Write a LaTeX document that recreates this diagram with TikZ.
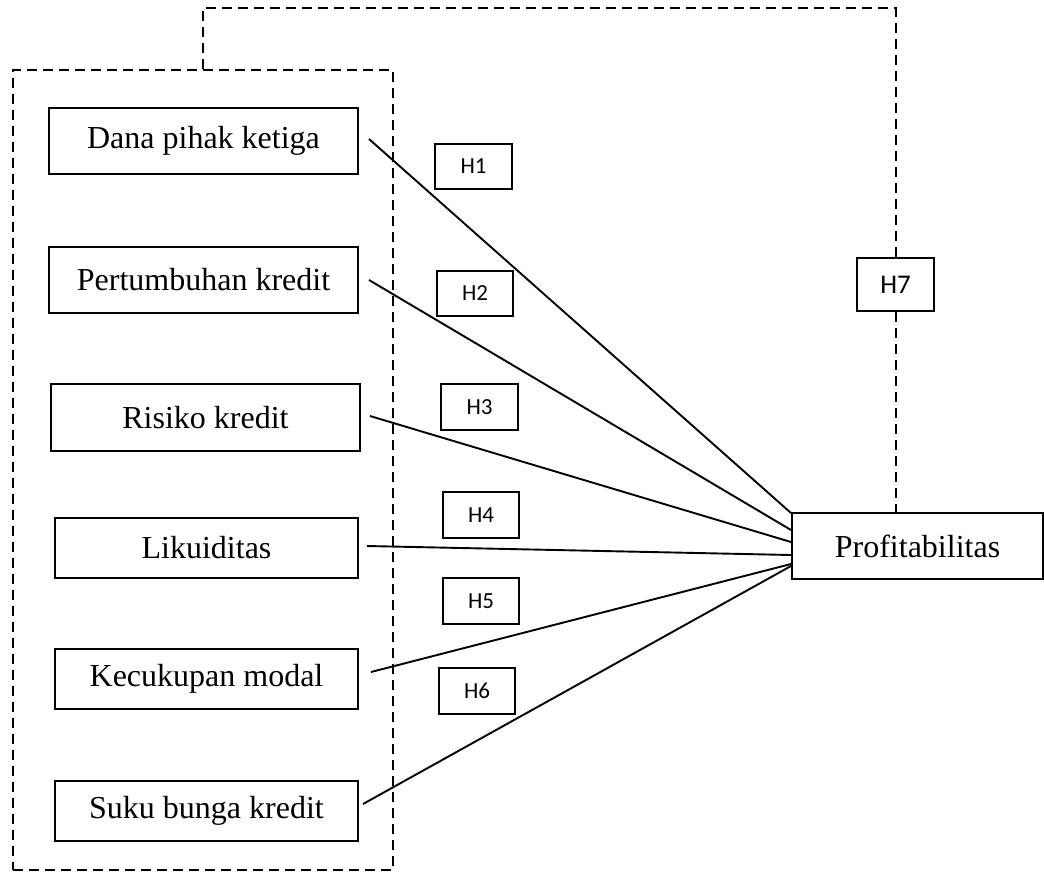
\documentclass[tikz,border=0pt]{standalone}
\usepackage{fontspec}
\setmainfont{Liberation Serif}
\newfontfamily\hfont{Carlito}
\begin{document}
\begin{tikzpicture}[x=1pt,y=-1pt,
  varbox/.style={draw,line width=2pt,inner sep=0pt,minimum width=309pt,minimum height=66pt,font=\fontsize{32}{36}\selectfont},
  hbox/.style={draw,line width=1.9pt,inner sep=0pt,minimum width=76pt,minimum height=46pt,font=\hfont\fontsize{23}{26}\selectfont},
  dashline/.style={line width=2pt,dash pattern=on 10pt off 6pt},
  link/.style={line width=1.9pt}]
\useasboundingbox (0,0) rectangle (1044,871);
% outer dashed group
\node[draw,dashline,minimum width=380pt,minimum height=800pt,inner sep=0pt] (group) at (203,470) {};
% variables
\node[varbox] (dana) at (203.5,141) {Dana pihak ketiga};
\node[varbox] (pert) at (203.5,280) {Pertumbuhan kredit};
\node[varbox,minimum height=67pt] (risk) at (205.5,417.5) {Risiko kredit};
\node[varbox,minimum width=303pt,minimum height=60pt] (likd) at (206.5,548) {Likuiditas};
\node[varbox,minimum width=303pt,minimum height=60pt] (modal) at (206.5,679) {Kecukupan modal};
\node[varbox,minimum width=303pt,minimum height=60pt] (bunga) at (206.5,811) {Suku bunga kredit};
\node[varbox,minimum width=251pt] (profit) at (917.5,546) {Profitabilitas};
% hypothesis labels
\node[hbox,minimum width=77pt,minimum height=45pt] (h1) at (473.5,166.5) {H1};
\node[hbox,minimum height=45pt] (h2) at (475,293.5) {H2};
\node[hbox,minimum width=77pt] (h3) at (479.5,407) {H3};
\node[hbox] (h4) at (481,515) {H4};
\node[hbox] (h5) at (481,601) {H5};
\node[hbox] (h6) at (477,691) {H6};
\node[hbox,minimum width=77pt,minimum height=53pt,font=\hfont\fontsize{27}{30}\selectfont] (h7) at (895.5,284.5) {H7};
% links
\draw[link] ([xshift=10pt,yshift=2pt]dana.east) -- ([yshift=33pt]profit.west);
\draw[link] ([xshift=10pt]pert.east) -- ([yshift=16pt]profit.west);
\draw[link] ([xshift=9pt,yshift=1.5pt]risk.east) -- ([yshift=4pt]profit.west);
\draw[link] ([xshift=8pt,yshift=2pt]likd.east) -- ([yshift=-9pt]profit.west);
\draw[link] ([xshift=12pt,yshift=7pt]modal.east) -- ([yshift=-18pt]profit.west);
\draw[link] ([xshift=4pt,yshift=7pt]bunga.east) -- ([yshift=-20pt]profit.west);
% H7 dashed connector
\draw[dashline] (group.north) -- ++(0,-61) -| (h7.north);
\draw[dashline] (h7.south) -- (h7.south |- profit.north);
\end{tikzpicture}
\end{document}
